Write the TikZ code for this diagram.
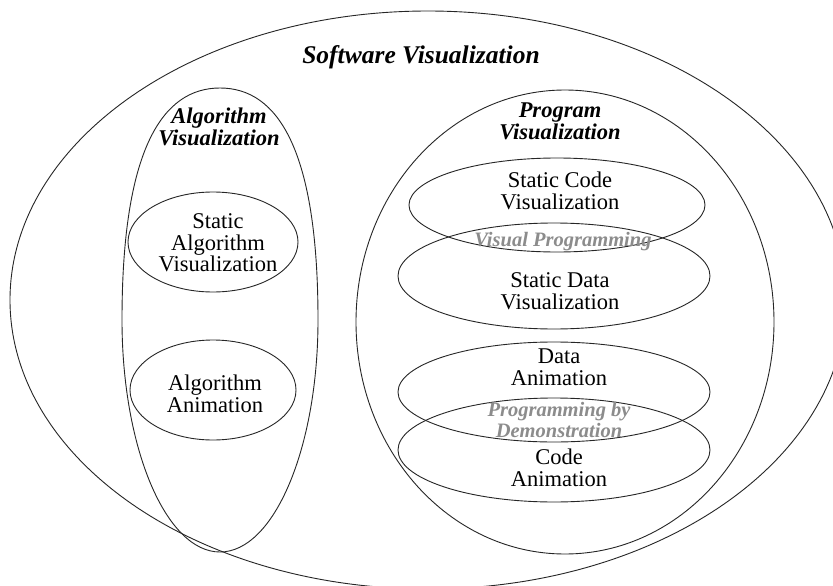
\documentclass[tikz,border=0pt]{standalone}
\usepackage{fontspec}
\setmainfont{Liberation Serif}
\usetikzlibrary{shapes.geometric}
\begin{document}
\begin{tikzpicture}[x=1pt,y=-1pt,
  ring/.style={draw=black!85, line width=0.9pt, ellipse, inner sep=0pt},
  lbl/.style={align=center, inner sep=0pt, font=\fontsize{22.5}{21.5}\selectfont},
  cat/.style={align=center, inner sep=0pt, font=\fontsize{22.5}{22}\selectfont\bfseries\itshape},
  ovl/.style={align=center, inner sep=0pt, text=black!45, font=\fontsize{20.5}{20.5}\selectfont\bfseries\itshape}]
\useasboundingbox (0,0) rectangle (833,586);
\fill[white] (0,0) rectangle (833,586);
% outer and program ellipses
\node[ring, minimum width=836pt, minimum height=578pt] (sv) at (428,300) {};
\node[ring, minimum width=418pt, minimum height=464pt] (pv) at (565,322) {};
% algorithm visualization (egg shape, fuller at the top)
\draw[draw=black!85, line width=0.9pt]
  (220,88) .. controls (278,88) and (318,150) .. (318,320)
  .. controls (318,448) and (274,552) .. (220,552)
  .. controls (166,552) and (122,448) .. (122,320)
  .. controls (122,150) and (162,88) .. (220,88) -- cycle;
% inner ellipses
\node[ring, minimum width=170pt, minimum height=100pt] (sav) at (213,242) {};
\node[ring, minimum width=166pt, minimum height=100pt] (aa) at (213,390) {};
\node[ring, minimum width=296pt, minimum height=94pt] (scv) at (557,205) {};
\node[ring, minimum width=312pt, minimum height=106pt] (sdv) at (554,276) {};
\node[ring, minimum width=312pt, minimum height=100pt] (da) at (554,392) {};
\node[ring, minimum width=312pt, minimum height=104pt] (ca) at (554,450) {};
% texts
\node[cat, font=\fontsize{25.5}{26}\selectfont\bfseries\itshape] (tsv) at (421,57) {Software Visualization};
\node[cat] (tav) at (219,127) {Algorithm\\Visualization};
\node[cat] (tpv) at (560,121) {Program\\Visualization};
\node[lbl] (tsav) at (218,243) {Static\\Algorithm\\Visualization};
\node[lbl] (taa) at (215,394) {Algorithm\\Animation};
\node[lbl] (tscv) at (560,191) {Static Code\\Visualization};
\node[ovl] (tvp) at (563,242) {Visual Programming};
\node[lbl] (tsdv) at (560,291) {Static Data\\Visualization};
\node[lbl] (tda) at (559,367) {Data\\Animation};
\node[ovl] (tpbd) at (559,420) {Programming by\\Demonstration};
\node[lbl] (tca) at (559,468) {Code\\Animation};
\end{tikzpicture}
\end{document}
